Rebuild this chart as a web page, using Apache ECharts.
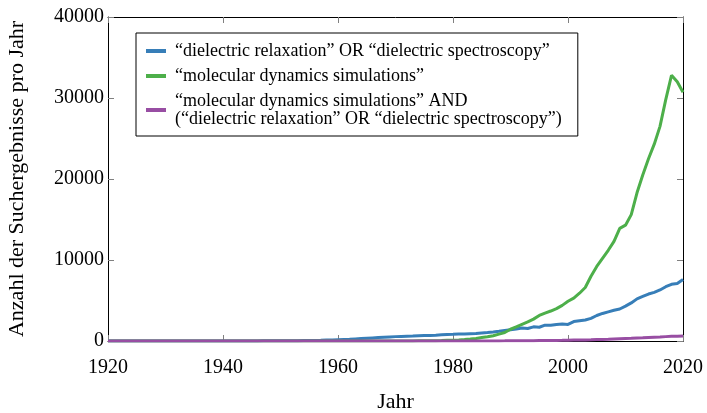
<!DOCTYPE html>
<html>
<head>
<meta charset="utf-8">
<script src="https://cdn.jsdelivr.net/npm/echarts@6/dist/echarts.min.js"></script>
<style>
  html, body { margin: 0; padding: 0; background: #fff; }
  #chart { width: 707px; height: 413px; }
</style>
</head>
<body>
<div id="chart"></div>
<script>
// Search hits per year, 1920–2020
const startYear = 1920;
const endYear = 2020;

const xTicks = [1920, 1940, 1960, 1980, 2000, 2020];
const yTicks = [0, 10000, 20000, 30000, 40000];

const seriesNames = [
  '“dielectric relaxation” OR “dielectric spectroscopy”',
  '“molecular dynamics simulations”',
  '“molecular dynamics simulations” AND\n(“dielectric relaxation” OR “dielectric spectroscopy”)'
];

// "dielectric relaxation" OR "dielectric spectroscopy"
const dielectric = [
  // 1920–1929
  0, 0, 0, 0, 0, 0, 0, 0, 0, 0,
  // 1930–1939
  2, 2, 3, 3, 4, 4, 5, 5, 6, 6,
  // 1940–1949
  8, 8, 9, 10, 10, 12, 14, 16, 18, 20,
  // 1950–1959
  25, 30, 35, 40, 50, 60, 75, 90, 110, 130,
  // 1960–1969
  160, 190, 220, 260, 300, 340, 380, 420, 460, 500,
  // 1970–1979
  540, 570, 600, 620, 650, 670, 690, 720, 760, 800,
  // 1980–1989
  820, 850, 870, 900, 930, 1000, 1050, 1120, 1200, 1300,
  // 1990–1999
  1400, 1480, 1600, 1550, 1750, 1700, 1950, 1950, 2050, 2100,
  // 2000–2009
  2050, 2400, 2500, 2600, 2800, 3150, 3400, 3600, 3800, 3950,
  // 2010–2020
  4300, 4700, 5200, 5500, 5800, 6000, 6300, 6700, 7000, 7100, 7600
];

// "molecular dynamics simulations"
const mdSim = [
  // 1920–1969
  0, 0, 0, 0, 0, 0, 0, 0, 0, 0,
  0, 0, 0, 0, 0, 0, 0, 0, 0, 0,
  0, 0, 0, 0, 0, 0, 0, 0, 0, 0,
  0, 0, 0, 0, 0, 0, 0, 0, 0, 0,
  0, 0, 0, 0, 0, 0, 0, 0, 0, 0,
  // 1970–1979
  5, 8, 10, 15, 20, 25, 35, 45, 60, 80,
  // 1980–1989
  100, 130, 180, 240, 320, 420, 520, 650, 850, 1050,
  // 1990–1999
  1450, 1750, 2050, 2350, 2700, 3150, 3450, 3700, 4000, 4400,
  // 2000–2009
  4900, 5300, 5900, 6600, 8000, 9200, 10200, 11200, 12300, 13900,
  // 2010–2020
  14300, 15600, 18300, 20500, 22500, 24300, 26500, 29800, 32800, 32000, 30700
];

// "molecular dynamics simulations" AND (dielectric ...)
const combined = [
  // 1920–1979
  0, 0, 0, 0, 0, 0, 0, 0, 0, 0,
  0, 0, 0, 0, 0, 0, 0, 0, 0, 0,
  0, 0, 0, 0, 0, 0, 0, 0, 0, 0,
  0, 0, 0, 0, 0, 0, 0, 0, 0, 0,
  0, 0, 0, 0, 0, 0, 0, 0, 0, 0,
  0, 0, 0, 0, 0, 0, 0, 0, 0, 0,
  // 1980–1989
  2, 3, 4, 5, 6, 8, 10, 12, 15, 18,
  // 1990–1999
  22, 26, 30, 35, 40, 50, 55, 65, 75, 85,
  // 2000–2009
  100, 110, 120, 135, 150, 170, 190, 210, 240, 270,
  // 2010–2020
  300, 330, 370, 400, 440, 470, 500, 540, 580, 600, 620
];

const colors = ['#377eb8', '#4daf4a', '#984ea3'];
const years = [];
for (let y = startYear; y <= endYear; y++) years.push(y);
const pairs = arr => years.map((y, i) => [y, arr[i]]);

const font = '"Liberation Serif", "DejaVu Serif", serif';
const tickStyle = { show: true, inside: true, length: 6, lineStyle: { color: '#808080', width: 1 } };
const frameLine = { show: true, onZero: false, lineStyle: { color: '#000', width: 1 } };

const chart = echarts.init(document.getElementById('chart'), null, { renderer: 'canvas' });
chart.setOption({
  animation: false,
  backgroundColor: '#fff',
  color: colors,
  textStyle: { fontFamily: font, color: '#000' },
  grid: { left: 108, right: 24, top: 17, bottom: 72, containLabel: false, outerBoundsMode: 'none' },
  legend: {
    orient: 'vertical',
    left: 136,
    top: 33,
    padding: [9, 16, 8, 10],
    itemGap: 7,
    itemWidth: 20,
    itemHeight: 4,
    icon: 'rect',
    borderColor: '#000',
    borderWidth: 1,
    backgroundColor: '#fff',
    textStyle: { fontFamily: font, fontSize: 18, lineHeight: 18, color: '#000', padding: [0, 0, 0, 4] },
    data: seriesNames
  },
  xAxis: [
    {
      type: 'value', min: startYear, max: endYear, interval: 20,
      name: 'Jahr', nameLocation: 'middle', nameGap: 50,
      nameTextStyle: { fontFamily: font, fontSize: 22, color: '#000' },
      axisLine: frameLine,
      axisTick: tickStyle,
      axisLabel: { fontFamily: font, fontSize: 20, color: '#000', margin: 17,
        formatter: v => xTicks.includes(v) ? String(v) : '' },
      splitLine: { show: false }
    },
    {
      type: 'value', position: 'top', min: startYear, max: endYear, interval: 20,
      axisLine: frameLine, axisTick: tickStyle,
      axisLabel: { show: false }, splitLine: { show: false }
    }
  ],
  yAxis: [
    {
      type: 'value', min: 0, max: 40000, interval: 10000,
      name: 'Anzahl der Suchergebnisse pro Jahr', nameLocation: 'middle', nameGap: 80,
      nameTextStyle: { fontFamily: font, fontSize: 22, color: '#000' },
      axisLine: frameLine,
      axisTick: tickStyle,
      axisLabel: { fontFamily: font, fontSize: 20, color: '#000', margin: 4,
        formatter: v => yTicks.includes(v) ? String(v) : '' },
      splitLine: { show: false }
    },
    {
      type: 'value', position: 'right', min: 0, max: 40000, interval: 10000,
      axisLine: frameLine, axisTick: tickStyle,
      axisLabel: { show: false }, splitLine: { show: false }
    }
  ],
  series: [
    { name: seriesNames[0], type: 'line', data: pairs(dielectric), showSymbol: false,
      lineStyle: { width: 3, color: colors[0] }, itemStyle: { color: colors[0] }, z: 3 },
    { name: seriesNames[1], type: 'line', data: pairs(mdSim), showSymbol: false,
      lineStyle: { width: 3, color: colors[1] }, itemStyle: { color: colors[1] }, z: 4 },
    { name: seriesNames[2], type: 'line', data: pairs(combined), showSymbol: false,
      lineStyle: { width: 3, color: colors[2] }, itemStyle: { color: colors[2] }, z: 5 }
  ]
});
</script>
</body>
</html>
